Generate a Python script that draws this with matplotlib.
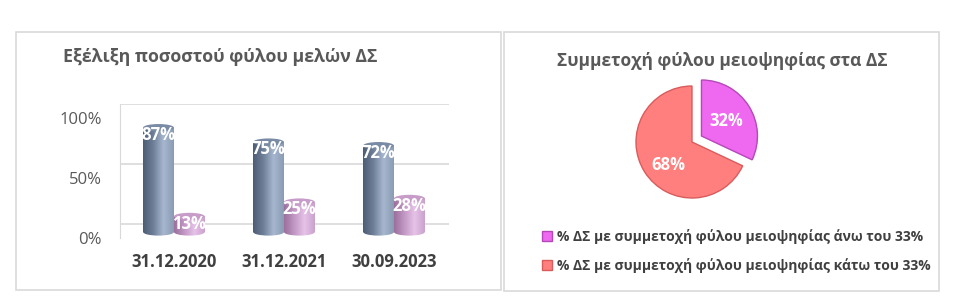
import numpy as np
import matplotlib.pyplot as plt
from matplotlib.colors import LinearSegmentedColormap
from matplotlib.patches import Rectangle, Ellipse, Patch

plt.rcParams['font.family'] = ['Open Sans', 'DejaVu Sans']

# data
dates = ['31.12.2020', '31.12.2021', '30.09.2023']
share_major = [0.87, 0.75, 0.72]
share_minor = [0.13, 0.25, 0.28]
ytick_vals = [0, 0.5, 1.0]
ytick_labels = ['0%', '50%', '100%']
pie_labels = ['% ΔΣ με συμμετοχή φύλου μειοψηφίας άνω του 33%',
              '% ΔΣ με συμμετοχή φύλου μειοψηφίας κάτω του 33%']
pie_vals = [32, 68]

W, H = 964, 308
fig = plt.figure(figsize=(W / 100, H / 100), dpi=100)


def px(x0, y0, x1, y1):
    # pixel box (top-left origin) -> figure fraction
    return [x0 / W, 1 - y1 / H, (x1 - x0) / W, (y1 - y0) / H]


# panel frames
for x0, y0, x1, y1 in [(16, 32, 501, 290), (504, 32, 939, 291)]:
    fig.patches.append(Rectangle((x0 / W, 1 - y1 / H), (x1 - x0) / W, (y1 - y0) / H,
                                 transform=fig.transFigure, fill=False,
                                 ec='#d9d9d9', lw=1.2))

# ---- bar chart ----
ax = fig.add_axes(px(120, 104, 449, 238))
shift = 0.067   # 3d look: bars sit a bit in front of the back wall
lab_shift = 0.117  # tick labels sit at the front floor edge
bw = 0.28
blue = LinearSegmentedColormap.from_list('b', ['#4d5d74', '#6e7f98', '#a6b7cf', '#8a9bb4'])
pink = LinearSegmentedColormap.from_list('p', ['#9c6f9c', '#c298c4', '#e6c2e8', '#caa3cc'])
grad = np.linspace(0, 1, 64).reshape(1, -1)
x = np.arange(len(dates))
for offs, vals, cmap, top_c in [(-bw / 2, share_major, blue, '#7a8ba5'),
                                (bw / 2, share_minor, pink, '#c79cc8')]:
    bars = ax.bar(x + offs, vals, bw, bottom=-shift, color='none', zorder=3)
    for b, v in zip(bars, vals):
        x0, w = b.get_x(), b.get_width()
        y0, y1 = b.get_y(), b.get_y() + b.get_height()
        im = ax.imshow(grad, cmap=cmap, extent=(x0, x0 + w, y0, y1),
                       aspect='auto', zorder=3)
        im.set_clip_path(b)
        bot = Ellipse((x0 + w / 2, y0), w, 0.06, zorder=3, fc='none', ec='none')
        ax.add_patch(bot)
        im2 = ax.imshow(grad, cmap=cmap, extent=(x0, x0 + w, y0 - 0.03, y0),
                        aspect='auto', zorder=3)
        im2.set_clip_path(bot)
        ax.add_patch(Ellipse((x0 + w / 2, y1), w, 0.06, fc=top_c,
                             ec='none', zorder=4))
        ax.text(x0 + w / 2, y1 - 0.06, f'{v:.0%}', color='white',
                fontsize=12, fontweight='bold', ha='center', va='center', zorder=5)

ax.set_xlim(-0.49, 2.5)
ax.set_ylim(-lab_shift, 1.0)
# gridlines on the back wall, labels at the front edge
ax.set_yticks(ytick_vals, minor=True)
ax.set_yticks([v - lab_shift for v in ytick_vals])
ax.set_yticklabels(ytick_labels, fontsize=12, color='#595959')
ax.set_xticks(x)
ax.set_xticklabels(dates, fontsize=12, fontweight='bold', color='#404040')
ax.tick_params(which='both', length=0)
ax.tick_params(axis='x', pad=11)
ax.tick_params(axis='y', pad=13)
ax.yaxis.grid(True, which='minor', color='#d9d9d9', lw=1.2, zorder=0)
for s in ['top', 'right', 'bottom']:
    ax.spines[s].set_visible(False)
ax.spines['left'].set_color('#d9d9d9')
ax.set_facecolor('none')
fig.text(63 / W, 1 - 57 / H, 'Εξέλιξη ποσοστού φύλου μελών ΔΣ', fontsize=12.75,
         fontweight='bold', color='#595959', va='center', ha='left')

# ---- pie ----
pax = fig.add_axes(px(622, 72, 762, 212))
pie_colors = ['#ef68f0', '#ff7e7e']
edge_colors = ['#b548b8', '#d85c5c']
wedges, _ = pax.pie(pie_vals, colors=pie_colors, startangle=90, counterclock=False,
                    explode=[0.2, 0], radius=1)
for wdg, ec in zip(wedges, edge_colors):
    wdg.set_edgecolor(ec)
    wdg.set_linewidth(1)
for wdg, v, r, da in zip(wedges, pie_vals, [0.52, 0.59], [-2, 12]):
    ang = np.deg2rad((wdg.theta1 + wdg.theta2) / 2 + da)
    cx, cy = wdg.center
    pax.text(cx + r * np.cos(ang), cy + r * np.sin(ang), f'{v}%', color='white',
             fontsize=12, fontweight='bold', ha='center', va='center')
pax.set_xlim(-1.25, 1.25)
pax.set_ylim(-1.25, 1.25)
pax.set_aspect('equal')

fig.text(722 / W, 1 - 61 / H, 'Συμμετοχή φύλου μειοψηφίας στα ΔΣ', fontsize=12.5,
         fontweight='bold', color='#595959', va='center', ha='center')

handles = [Patch(fc=c, ec=e) for c, e in zip(pie_colors, edge_colors)]
fig.legend(handles, pie_labels, loc='upper left', bbox_to_anchor=(542 / W, 1 - 229 / H),
           frameon=False, handlelength=0.7, handleheight=0.7,
           handletextpad=0.4, labelspacing=1.0, borderpad=0, borderaxespad=0,
           prop={'weight': 'bold', 'size': 10}, labelcolor='#404040')

fig.savefig('out.png', dpi=100)
